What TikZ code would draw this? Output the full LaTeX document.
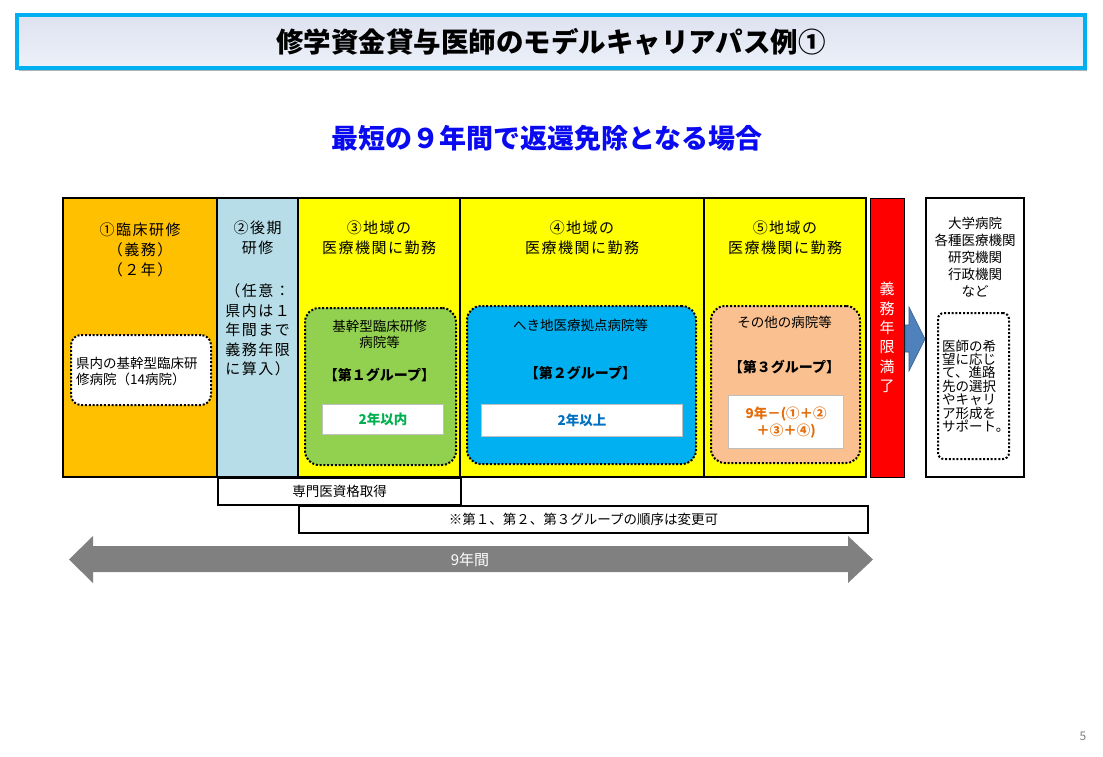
\documentclass[tikz,border=0pt]{standalone}
\usepackage{fontspec}
\setmainfont{Noto Sans CJK JP}
\newfontfamily\hdrfont{Noto Sans CJK JP}[LetterSpace=10]
\usepackage{tikz}
\usetikzlibrary{positioning,shadows}
\definecolor{ttlline}{RGB}{0,176,240}
\definecolor{ttltop}{RGB}{222,226,240}
\definecolor{ttlbot}{RGB}{236,241,249}
\definecolor{subblue}{RGB}{10,10,240}
\definecolor{colorange}{RGB}{255,192,0}
\definecolor{collblue}{RGB}{183,222,232}
\definecolor{colyellow}{RGB}{255,255,0}
\definecolor{grpgreen}{RGB}{146,208,80}
\definecolor{grpblue}{RGB}{0,176,240}
\definecolor{grppeach}{RGB}{250,192,144}
\definecolor{txtgreen}{RGB}{0,176,80}
\definecolor{txtblue}{RGB}{0,112,192}
\definecolor{txtorange}{RGB}{228,108,10}
\definecolor{arrblue}{RGB}{79,129,189}
\definecolor{arrgray}{RGB}{128,128,128}
\tikzset{
  ttlbox/.style={rectangle,draw=ttlline,line width=3.5pt,top color=ttltop,
    middle color=white,bottom color=ttlbot,inner sep=0pt,
    font=\fontsize{27.5}{30}\selectfont\bfseries,
    drop shadow={shadow xshift=2pt,shadow yshift=-3pt,fill=black!30,opacity=1}},
  colbox/.style={rectangle,draw=black,line width=1.5pt,anchor=north west,
    inner sep=0pt,outer sep=0pt,minimum height=279pt},
  grpbox/.style={rectangle,rounded corners=14pt,draw=black,line width=2pt,
    dash pattern=on 2pt off 1.8pt,anchor=north west,inner sep=0pt},
  yrbox/.style={rectangle,draw=black!25,line width=1.2pt,fill=white,
    anchor=north west,inner sep=0pt,font=\fontsize{13.5}{17}\selectfont\bfseries,
    align=center},
  rowbox/.style={rectangle,draw=black,line width=2pt,anchor=north west,
    inner sep=0pt,minimum height=27pt,font=\fontsize{13.5}{16}\selectfont},
  hdrtxt/.style={font=\hdrfont\fontsize{15}{20}\selectfont,align=center,inner sep=0pt},
  smalltxt/.style={font=\fontsize{13.5}{16}\selectfont,align=center,inner sep=0pt},
  grptxt/.style={font=\fontsize{14}{16}\selectfont\bfseries,inner sep=0pt},
}

\begin{document}
\begin{tikzpicture}[x=1pt,y=-1pt]
  \useasboundingbox (0,0) rectangle (1103,756);

  % title bar
  \node[ttlbox,minimum width=1068pt,minimum height=53pt] (ttl) at (551,41.5)
    {修学資金貸与医師のモデルキャリアパス例①};

  % subtitle
  \node[font=\fontsize{27}{30}\selectfont\bfseries,text=subblue,inner sep=0pt]
    (sub) at (547,138) {最短の９年間で返還免除となる場合};

  % period columns
  \node[colbox,fill=colorange,minimum width=154pt] (c1) at (63,198) {};
  \node[colbox,fill=collblue,minimum width=81pt,right=0pt of c1] (c2) {};
  \node[colbox,fill=colyellow,minimum width=162pt,right=0pt of c2] (c3) {};
  \node[colbox,fill=colyellow,minimum width=244pt,right=0pt of c3] (c4) {};
  \node[colbox,fill=colyellow,minimum width=162pt,right=0pt of c4] (c5) {};

  % obligation end + after
  \node[colbox,fill=red,line width=1pt,minimum width=34pt,text=white,
        align=center,font=\fontsize{15}{19.4}\selectfont] (lim) at (870,198)
    {義\\務\\年\\限\\満\\了};
  \node[colbox,fill=white,minimum width=98pt] (rt) at (926,198) {};

  % column headers
  \node[hdrtxt] (h1) at (140,249.5) {①臨床研修\\（義務）\\（２年）};
  \node[hdrtxt] (h2) at (257.5,238) {②後期\\研修};
  \node[hdrtxt,font=\hdrfont\fontsize{15}{19.5}\selectfont] (h2b) at (257.5,330)
    {（任意：\\県内は１\\年間まで\\義務年限\\に算入）};
  \node[hdrtxt] (h3) at (379,238) {③地域の\\医療機関に勤務};
  \node[hdrtxt] (h4) at (582,238) {④地域の\\医療機関に勤務};
  \node[hdrtxt] (h5) at (785,238) {⑤地域の\\医療機関に勤務};
  \node[smalltxt,font=\fontsize{13.5}{17}\selectfont] (h6) at (975,257)
    {大学病院\\各種医療機関\\研究機関\\行政機関\\など};

  % hospital groups
  \node[grpbox,rounded corners=10pt,fill=white,minimum width=140pt,
        minimum height=70pt] (g0) at (70,334) {};
  \node[smalltxt,align=left,anchor=west] (t0) at (76,371.5)
    {県内の基幹型臨床研\\修病院（14病院）};

  \node[grpbox,fill=grpgreen,minimum width=151pt,minimum height=157pt]
    (g1) at (304,307) {};
  \node[smalltxt] (t1) at (379.5,334.5) {基幹型臨床研修\\病院等};
  \node[grptxt] (k1) at (379.5,375) {【第１グループ】};
  \node[yrbox,text=txtgreen,minimum width=121pt,minimum height=30pt]
    (w1) at (322,404) {2年以内};

  \node[grpbox,fill=grpblue,minimum width=229pt,minimum height=158pt]
    (g2) at (466,305) {};
  \node[smalltxt] (t2) at (580.5,325) {へき地医療拠点病院等};
  \node[grptxt] (k2) at (580.5,373) {【第２グループ】};
  \node[yrbox,text=txtblue,minimum width=201pt,minimum height=32pt]
    (w2) at (481,404) {2年以上};

  \node[grpbox,fill=grppeach,minimum width=149pt,minimum height=157pt]
    (g3) at (710,305) {};
  \node[smalltxt] (t3) at (784.5,322) {その他の病院等};
  \node[grptxt] (k3) at (784.5,367) {【第３グループ】};
  \node[yrbox,text=txtorange,minimum width=115pt,minimum height=53pt]
    (w3) at (728,395) {9年－(①＋②\\＋③＋④)};

  \node[grpbox,rounded corners=6pt,fill=white,minimum width=71pt,
        minimum height=146pt] (g4) at (937,312) {};
  \node[smalltxt,align=left,anchor=west,font=\fontsize{13.5}{13.4}\selectfont]
    (t4) at (942,386)
    {医師の希\\望に応じ\\て、進路\\先の選択\\やキャリ\\ア形成を\\サポート。};

  % arrow to career after obligation
  \fill[arrblue,draw=arrblue!70!black,line width=0.6pt]
    (905,325) -- (909,325) -- (909,307) -- (925,339) -- (909,371)
    -- (909,352) -- (905,352) -- cycle;

  % notes below
  \node[rowbox,minimum width=243pt] (spec) at (217,477) {専門医資格取得};
  \node[rowbox,minimum width=569pt] (note) at (298,505)
    {※第１、第２、第３グループの順序は変更可};

  % nine years span
  \fill[arrgray] (69,559.5) -- (93,536) -- (93,546) -- (848,546) -- (848,536)
    -- (873,559.5) -- (848,583) -- (848,572) -- (93,572) -- (93,583) -- cycle;
  \node[text=white,font=\fontsize{15}{16}\selectfont,inner sep=0pt] (yrs)
    at (470,560) {9年間};

  % page number
  \node[text=arrgray,font=\fontsize{12}{12}\selectfont,inner sep=0pt] (pg)
    at (1083,736) {5};

\end{tikzpicture}
\end{document}
